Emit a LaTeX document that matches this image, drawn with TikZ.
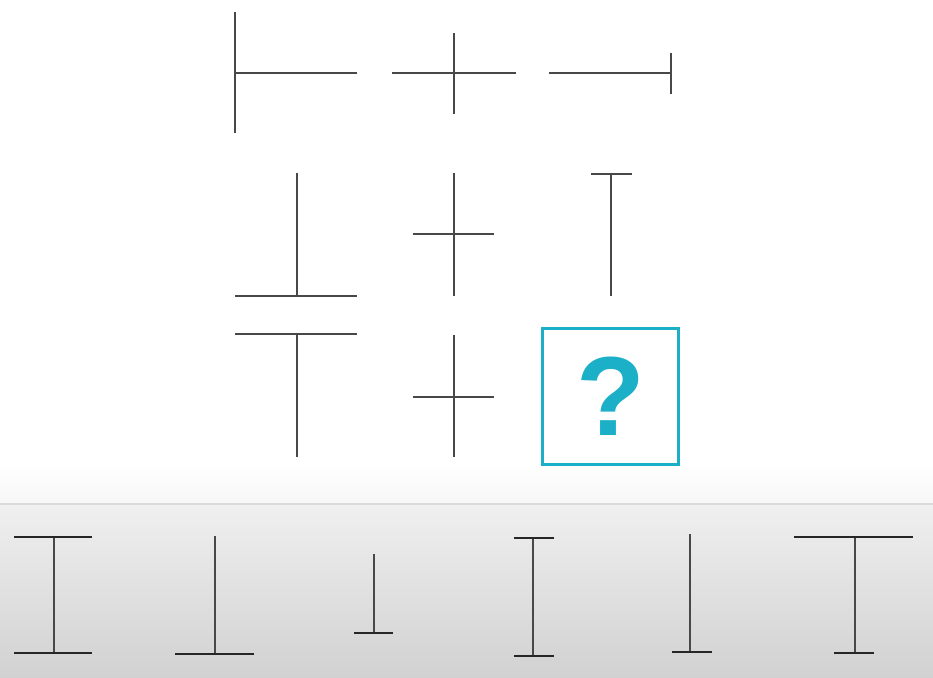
\documentclass[tikz,border=0pt]{standalone}
\usepackage{fontspec}
\setmainfont{Liberation Sans}
\definecolor{qteal}{RGB}{27,176,200}
\definecolor{stroke}{RGB}{72,72,72}
\definecolor{divline}{RGB}{218,218,218}
\tikzset{
  part/.style={draw=stroke,line width=0.85pt},
  bar/.style={draw=black!85,line width=1.5pt},
  qbox/.style={draw=qteal,line width=1.7pt,minimum size=2.72cm,inner sep=0pt,
    text=qteal,font=\bfseries\fontsize{64}{64}\selectfont}
}
\begin{document}
\begin{tikzpicture}[x=0.02cm,y=-0.02cm]
  \useasboundingbox (0,0) rectangle (933,678);
  \fill[white] (0,0) rectangle (933,678);
  \shade[top color=white,bottom color=black!3] (0,462) rectangle (933,504);
  \shade[top color=black!6,bottom color=black!18] (0,504) rectangle (933,678);
  \draw[divline,line width=0.8pt] (0,504) -- (933,504);
  % the grid
  \draw[part] (235,12) -- (235,133);
  \draw[part] (235,73) -- (357,73);
  \draw[part] (392,73) -- (516,73);
  \draw[part] (454,33) -- (454,114);
  \draw[part] (549,73) -- (671,73);
  \draw[part] (671,53) -- (671,94);
  \draw[part] (297,173) -- (297,296);
  \draw[part] (235,296) -- (357,296);
  \draw[part] (454,173) -- (454,296);
  \draw[part] (413,234) -- (494,234);
  \draw[part] (611,174) -- (611,296);
  \draw[part] (591,174) -- (632,174);
  \draw[part] (235,334) -- (357,334);
  \draw[part] (297,334) -- (297,457);
  \draw[part] (454,335) -- (454,457);
  \draw[part] (413,397) -- (494,397);
  \node[qbox] (qmark) at (610.5,396.5) {?};
  % answers
  \draw[part] (54,537) -- (54,653);
  \draw[bar] (14,537) -- (92,537);
  \draw[bar] (14,653) -- (92,653);
  \draw[part] (215,536) -- (215,654);
  \draw[bar] (175,654) -- (254,654);
  \draw[part] (374,554) -- (374,633);
  \draw[bar] (354,633) -- (393,633);
  \draw[part] (533,538) -- (533,656);
  \draw[bar] (514,538) -- (554,538);
  \draw[bar] (514,656) -- (554,656);
  \draw[part] (690,534) -- (690,652);
  \draw[bar] (672,652) -- (712,652);
  \draw[part] (855,537) -- (855,653);
  \draw[bar] (794,537) -- (913,537);
  \draw[bar] (834,653) -- (874,653);
\end{tikzpicture}
\end{document}
